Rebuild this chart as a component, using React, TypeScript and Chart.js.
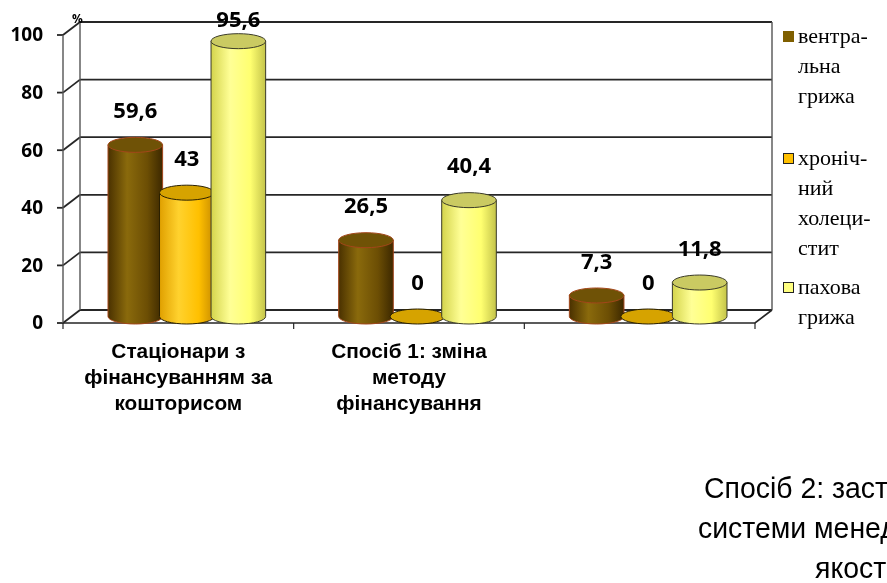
import React, { useEffect, useRef } from "react";
import Chart from "chart.js/auto";

const categories: string[][] = [
  ["Стаціонари з", "фінансуванням за", "кошторисом"],
  ["Спосіб 1: зміна", "методу", "фінансування"],
  ["Спосіб 2: застосування", "системи менеджменту", "якості"],
];
const seriesNames: string[][] = [
  ["вентра-", "льна", "грижа"],
  ["хроніч-", "ний", "холеци-", "стит"],
  ["пахова", "грижа"],
];
const ventral = [59.6, 26.5, 7.3];
const cholecystitis = [43, 0, 0];
const inguinal = [95.6, 40.4, 11.8];
const yTickValues = [0, 20, 40, 60, 80, 100];
const unitLabel = "%";

const legendColors = ["#7f5f00", "#ffc000", "#ffff80"];
const styles = [
  { stops: ["#4a3100", "#8a6a0c", "#6c4e04", "#3c2800"], top: "#6f5206", line: "#a3461a" },
  { stops: ["#e0a000", "#ffd22e", "#ffc000", "#c88c00"], top: "#d6a300", line: "#2a2000" },
  { stops: ["#d4d44c", "#ffff96", "#ffff70", "#c4c44a"], top: "#caca62", line: "#3a3a28" },
];

const DX = 17, DY = -13;
const SANS = "'Liberation Sans', Arial, sans-serif";

function fmt(v: number) {
  return String(v).replace(".", ",");
}

function narrowText(ctx: CanvasRenderingContext2D, text: string, x: number, y: number, sx: number, align: "left" | "center") {
  ctx.save();
  ctx.translate(x, y);
  ctx.scale(sx, 1);
  ctx.textAlign = align;
  ctx.fillText(text, 0, 0);
  ctx.restore();
}

const plugin = {
  id: "cyl3d",
  beforeDatasetsDraw(chart: any) {
    const ctx = chart.ctx as CanvasRenderingContext2D;
    const ys = chart.scales.y;
    const L = chart.chartArea.left, R = chart.chartArea.right;
    const y0 = ys.getPixelForValue(0);
    ctx.save();
    ctx.strokeStyle = "#262626";
    ctx.lineWidth = 1.8;
    for (const v of yTickValues) {
      const yf = ys.getPixelForValue(v);
      ctx.beginPath();
      ctx.moveTo(L + DX, yf + DY);
      ctx.lineTo(R + DX, yf + DY);
      ctx.stroke();
      ctx.beginPath();
      ctx.moveTo(L, yf);
      ctx.lineTo(L + DX, yf + DY);
      ctx.stroke();
      ctx.beginPath();
      ctx.moveTo(L - 6, yf);
      ctx.lineTo(L, yf);
      ctx.stroke();
    }
    const yTop = ys.getPixelForValue(100);
    ctx.lineWidth = 1.4;
    ctx.strokeStyle = "#555";
    ctx.beginPath();
    ctx.moveTo(L + DX, yTop + DY);
    ctx.lineTo(L + DX, y0 + DY);
    ctx.moveTo(R + DX, yTop + DY);
    ctx.lineTo(R + DX, y0 + DY);
    ctx.moveTo(L, yTop);
    ctx.lineTo(L, y0);
    ctx.stroke();
    ctx.strokeStyle = "#262626";
    ctx.lineWidth = 1.6;
    ctx.beginPath();
    ctx.moveTo(L, y0);
    ctx.lineTo(R, y0);
    ctx.lineTo(R + DX, y0 + DY);
    ctx.stroke();
    const n = categories.length;
    const cw = (R - L) / n;
    ctx.lineWidth = 1.2;
    for (let i = 0; i <= n; i++) {
      const x = L + i * cw;
      ctx.beginPath();
      ctx.moveTo(x, y0);
      ctx.lineTo(x, y0 + 6);
      ctx.stroke();
    }
    ctx.restore();
  },
  afterDatasetsDraw(chart: any) {
    const ctx = chart.ctx as CanvasRenderingContext2D;
    const xs = chart.scales.x, ys = chart.scales.y;
    const L = chart.chartArea.left;
    const y0 = ys.getPixelForValue(0);
    const nCat = categories.length;
    const metas = chart.data.datasets.map((_: any, i: number) => chart.getDatasetMeta(i));
    const ry = 7.5;
    ctx.save();
    for (let c = 0; c < nCat; c++) {
      for (let d = 0; d < metas.length; d++) {
        const bar = metas[d].data[c];
        const st = styles[d];
        const w = bar.width * 1.06;
        const cx = bar.x + DX / 2;
        const top = bar.y + DY / 2;
        const base = bar.base + DY / 2;
        const x0 = cx - w / 2, x1 = cx + w / 2;
        const h = base - top;
        ctx.lineWidth = 1;
        ctx.strokeStyle = st.line;
        if (h > 0.5) {
          const g = ctx.createLinearGradient(x0, 0, x1, 0);
          g.addColorStop(0, st.stops[0]);
          g.addColorStop(0.35, st.stops[1]);
          g.addColorStop(0.72, st.stops[2]);
          g.addColorStop(1, st.stops[3]);
          ctx.beginPath();
          ctx.moveTo(x0, top);
          ctx.lineTo(x0, base);
          ctx.ellipse(cx, base, w / 2, ry, 0, Math.PI, 0, true);
          ctx.lineTo(x1, top);
          ctx.closePath();
          ctx.fillStyle = g;
          ctx.fill();
          ctx.stroke();
        }
        ctx.beginPath();
        ctx.ellipse(cx, top, w / 2, ry, 0, 0, Math.PI * 2);
        ctx.fillStyle = st.top;
        ctx.fill();
        ctx.stroke();
        const v = chart.data.datasets[d].data[c];
        ctx.fillStyle = "#000";
        ctx.font = "bold 22px 'Open Sans', sans-serif";
        ctx.textAlign = "center";
        ctx.textBaseline = "middle";
        const ly = Math.max(21, top - 33);
        ctx.fillText(fmt(v), cx, ly);
      }
    }
    // y tick labels
    ctx.fillStyle = "#000";
    ctx.font = "bold 19px 'Open Sans', sans-serif";
    ctx.textAlign = "right";
    ctx.textBaseline = "middle";
    for (const v of yTickValues) {
      ctx.fillText(String(v), L - 20, ys.getPixelForValue(v) + 1);
    }
    ctx.font = "bold 12px 'Open Sans', sans-serif";
    ctx.textAlign = "left";
    ctx.fillText(unitLabel, L + 9, ys.getPixelForValue(100) - 15);
    // category labels (narrow bold)
    ctx.font = "bold 21px " + SANS;
    const sx = 134 / ctx.measureText(categories[0][0]).width;
    for (let c = 0; c < 2; c++) {
      const cx = xs.getPixelForValue(c);
      categories[c].forEach((line, k) => narrowText(ctx, line, cx, y0 + 29 + k * 26, sx, "center"));
    }
    // third category label (displaced, clipped at page edge)
    ctx.font = "30px " + SANS;
    ctx.textBaseline = "alphabetic";
    const sx3 = 184 / ctx.measureText("Спосіб 2: заст").width;
    const offs = [704, 698, 815];
    categories[2].forEach((line, k) => narrowText(ctx, line, offs[k], 498 + k * 40, sx3, "left"));
    // legend
    ctx.font = "22px 'Liberation Serif', 'Times New Roman', serif";
    ctx.textAlign = "left";
    ctx.textBaseline = "middle";
    const starts = [37, 159, 288];
    seriesNames.forEach((lines, i) => {
      const sy = starts[i];
      ctx.fillStyle = legendColors[i];
      ctx.fillRect(783, sy - 6, 11, 11);
      if (i > 0) {
        ctx.strokeStyle = "#222";
        ctx.lineWidth = 1;
        ctx.strokeRect(783.5, sy - 5.5, 10, 10);
      }
      ctx.fillStyle = "#000";
      lines.forEach((t, k) => ctx.fillText(t, 798, sy + k * 30));
    });
    ctx.restore();
  },
};

export default function App() {
  const ref = useRef<HTMLCanvasElement>(null);
  useEffect(() => {
    document.body.style.margin = "0";
    const canvas = ref.current!;
    const chart = new Chart(canvas, {
      type: "bar",
      data: {
        labels: categories.map((c) => c.join(" ")),
        datasets: [
          { label: seriesNames[0].join(""), data: ventral, backgroundColor: "rgba(0,0,0,0)" },
          { label: seriesNames[1].join(""), data: cholecystitis, backgroundColor: "rgba(0,0,0,0)" },
          { label: seriesNames[2].join(""), data: inguinal, backgroundColor: "rgba(0,0,0,0)" },
        ],
      },
      options: {
        responsive: false,
        animation: false,
        layout: { padding: { left: 63, right: 132, top: 35, bottom: 260 } },
        plugins: { legend: { display: false }, tooltip: { enabled: false } },
        datasets: { bar: { categoryPercentage: 0.67, barPercentage: 1 } },
        scales: {
          x: { display: false },
          y: { display: false, min: 0, max: 100 },
        },
      },
      plugins: [plugin],
    });
    return () => chart.destroy();
  }, []);
  return (
    <div style={{ width: 887, height: 583, background: "#fff", overflow: "hidden" }}>
      <canvas ref={ref} width={887} height={583} style={{ display: "block" }} />
    </div>
  );
}
